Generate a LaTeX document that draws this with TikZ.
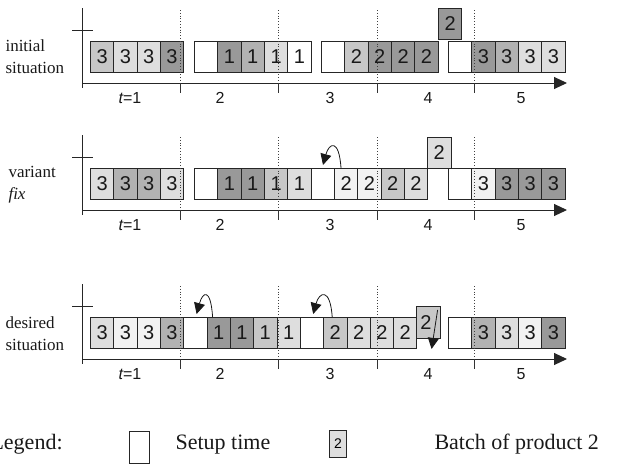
\documentclass[tikz,border=0pt]{standalone}
\usepackage{fontspec}
\setmainfont{Liberation Serif}
\newfontfamily\arialf{Liberation Sans}
\usetikzlibrary{arrows.meta}
\begin{document}
\begin{tikzpicture}[x=1pt,y=-1pt,
  cellbox/.style={draw=black!85, line width=0.9pt, minimum width=23.3pt, minimum height=31pt,
    inner sep=0pt, anchor=north west, font=\arialf\fontsize{20}{20}\selectfont, text=black!90},
  setupbox/.style={cellbox, fill=white, minimum width=23.4pt},
  wt/.style={cellbox, fill=black!5},
  lt/.style={cellbox, fill=black!13},
  ml/.style={cellbox, fill=black!22},
  md/.style={cellbox, fill=black!30},
  dk/.style={cellbox, fill=black!40},
  axisline/.style={line width=1pt, draw=black!85, -{Triangle[length=13pt,width=12pt]}},
  axisstem/.style={line width=1pt, draw=black!85},
  period/.style={dotted, line width=0.8pt, draw=black!75},
  ptick/.style={line width=0.8pt, draw=black!80},
  timelbl/.style={font=\arialf\fontsize{16}{16}\selectfont, text=black!90},
  rowlbl/.style={font=\fontsize{17}{22}\selectfont, align=left, anchor=west, text=black!90},
  movearrow/.style={line width=0.8pt, draw=black!90, -{Triangle[length=11pt,width=11pt]}},
  legtext/.style={font=\fontsize{22}{22}\selectfont, anchor=base west, text=black!90}
]
\useasboundingbox (0,0) rectangle (620,463);

% ================= Row 1 : initial situation =================
\node[ml] (r1a1) at (90,41) {3};
\node[lt] (r1a2) at (113.3,41) {3};
\node[lt] (r1a3) at (136.6,41) {3};
\node[dk] (r1a4) at (159.9,41) {3};
\node[setupbox] (r1s1) at (194,41) {};
\node[dk] (r1b1) at (217.4,41) {1};
\node[md] (r1b2) at (240.7,41) {1};
\node[lt] (r1b3) at (264,41) {1};
\node[cellbox,fill=white] (r1b4) at (287.3,41) {1};
\node[setupbox] (r1s2) at (321,41) {};
\node[ml] (r1c1) at (344.4,41) {2};
\node[dk] (r1c2) at (367.7,41) {2};
\node[dk] (r1c3) at (391,41) {2};
\node[dk] (r1c4) at (414.3,41) {2};
\node[dk] (r1x) at (438,8) {2};
\node[setupbox] (r1s3) at (448,41) {};
\node[dk] (r1d1) at (471.4,41) {3};
\node[md] (r1d2) at (494.7,41) {3};
\node[lt] (r1d3) at (518,41) {3};
\node[lt] (r1d4) at (541.3,41) {3};

% ================= Row 2 : variant fix =================
\node[lt] (r2a1) at (90,168) {3};
\node[md] (r2a2) at (113.3,168) {3};
\node[md] (r2a3) at (136.6,168) {3};
\node[lt] (r2a4) at (159.9,168) {3};
\node[setupbox] (r2s1) at (194,168) {};
\node[dk] (r2b1) at (217.4,168) {1};
\node[dk] (r2b2) at (240.7,168) {1};
\node[ml] (r2b3) at (264,168) {1};
\node[lt] (r2b4) at (287.3,168) {1};
\node[setupbox] (r2s2) at (310.6,168) {};
\node[wt] (r2c1) at (334,168) {2};
\node[wt] (r2c2) at (357.3,168) {2};
\node[ml] (r2c3) at (380.6,168) {2};
\node[lt] (r2c4) at (403.9,168) {2};
\node[lt] (r2x) at (427.2,137) {2};
\node[setupbox] (r2s3) at (448,168) {};
\node[wt] (r2d1) at (471.4,168) {3};
\node[dk] (r2d2) at (494.7,168) {3};
\node[dk] (r2d3) at (518,168) {3};
\node[dk] (r2d4) at (541.3,168) {3};

% ================= Row 3 : desired situation =================
\node[lt] (r3a1) at (90,317) {3};
\node[wt] (r3a2) at (113.3,317) {3};
\node[wt] (r3a3) at (136.6,317) {3};
\node[md] (r3a4) at (159.9,317) {3};
\node[setupbox] (r3s1) at (183.2,317) {};
\node[dk] (r3b1) at (206.6,317) {1};
\node[dk] (r3b2) at (229.9,317) {1};
\node[ml] (r3b3) at (253.2,317) {1};
\node[lt] (r3b4) at (276.5,317) {1};
\node[setupbox] (r3s2) at (299.8,317) {};
\node[ml] (r3c1) at (323.2,317) {2};
\node[lt] (r3c2) at (346.5,317) {2};
\node[lt] (r3c3) at (369.8,317) {2};
\node[lt] (r3c4) at (393.1,317) {2};
\node[ml, minimum height=32pt] (r3x) at (416.4,306) {\hspace*{-5pt}2};
\node[setupbox] (r3s3) at (448,317) {};
\node[md] (r3d1) at (471.4,317) {3};
\node[lt] (r3d2) at (494.7,317) {3};
\node[wt] (r3d3) at (518,317) {3};
\node[dk] (r3d4) at (541.3,317) {3};

% ================= axes, periods, labels =================
\foreach \r/\top/\ax/\cr in {1/8/83/30, 2/135/210/157, 3/284/359/306}{
  \coordinate (o\r) at (82,\ax);
  \coordinate (vt\r) at (82,\top);
  \coordinate (vb\r) at (82,\ax+5);
  \coordinate (cl\r) at (72,\cr);
  \coordinate (cr\r) at (93,\cr);
  \coordinate (ae\r) at (567,\ax);
  \draw[axisstem] (vt\r) -- (vb\r);
  \draw[axisstem] (cl\r) -- (cr\r);
  \draw[axisline] (o\r) -- (ae\r);
  \foreach \px in {180,278,377,474}{
    \coordinate (pt\r-\px) at (\px,\top+2);
    \coordinate (pa\r-\px) at (\px,\ax);
    \coordinate (pb\r-\px) at (\px,\ax+10);
    \draw[period] (pt\r-\px) -- (pa\r-\px);
    \draw[ptick] (pa\r-\px) -- (pb\r-\px);
  }
  \node[timelbl] (t\r-1) at (130,\ax+15) {{\itshape t}=1};
  \node[timelbl] (t\r-2) at (220,\ax+15) {2};
  \node[timelbl] (t\r-3) at (330,\ax+15) {3};
  \node[timelbl] (t\r-4) at (428,\ax+15) {4};
  \node[timelbl] (t\r-5) at (521,\ax+15) {5};
}

\node[rowlbl] (l1) at (2,57) {initial\\situation};
\node[rowlbl] (l2) at (5,185) {variant\\\textit{fix}};
\node[rowlbl] (l3) at (2,334) {desired\\situation};

% ================= moves =================
\draw[movearrow] ([xshift=7pt]r2c1.north west) .. controls +(-2,-30) and +(6,-22) .. ([xshift=-11pt,yshift=3pt]r2c1.north west);
\draw[movearrow] ([xshift=6pt]r3b1.north west) .. controls +(-2,-30) and +(6,-22) .. ([xshift=-10pt,yshift=3pt]r3b1.north west);
\draw[movearrow] ([xshift=9pt]r3c1.north west) .. controls +(-2,-30) and +(6,-22) .. ([xshift=-10pt,yshift=3pt]r3c1.north west);
\coordinate (sl1) at ([xshift=-3pt,yshift=-4pt]r3x.north east);
\coordinate (sl2) at ([xshift=-9pt,yshift=-10pt]r3x.south east);
\draw[movearrow] (sl1) -- (sl2);

% ================= legend =================
\node[legtext] (leg) at (-13,449) {Legend:};
\node[draw=black!85, line width=0.9pt, minimum width=20pt, minimum height=32pt, inner sep=0pt, anchor=north west] (legs) at (129,431) {};
\node[legtext] (legst) at (172,449) {Setup time};
\node[draw=black!85, line width=0.9pt, fill=black!13, minimum width=17pt, minimum height=27pt, inner sep=0pt, anchor=north west, font=\arialf\fontsize{14}{14}\selectfont] (legb) at (329,430) {2};
\node[legtext] (legbt) at (431,449) {Batch of product 2};
\end{tikzpicture}
\end{document}
